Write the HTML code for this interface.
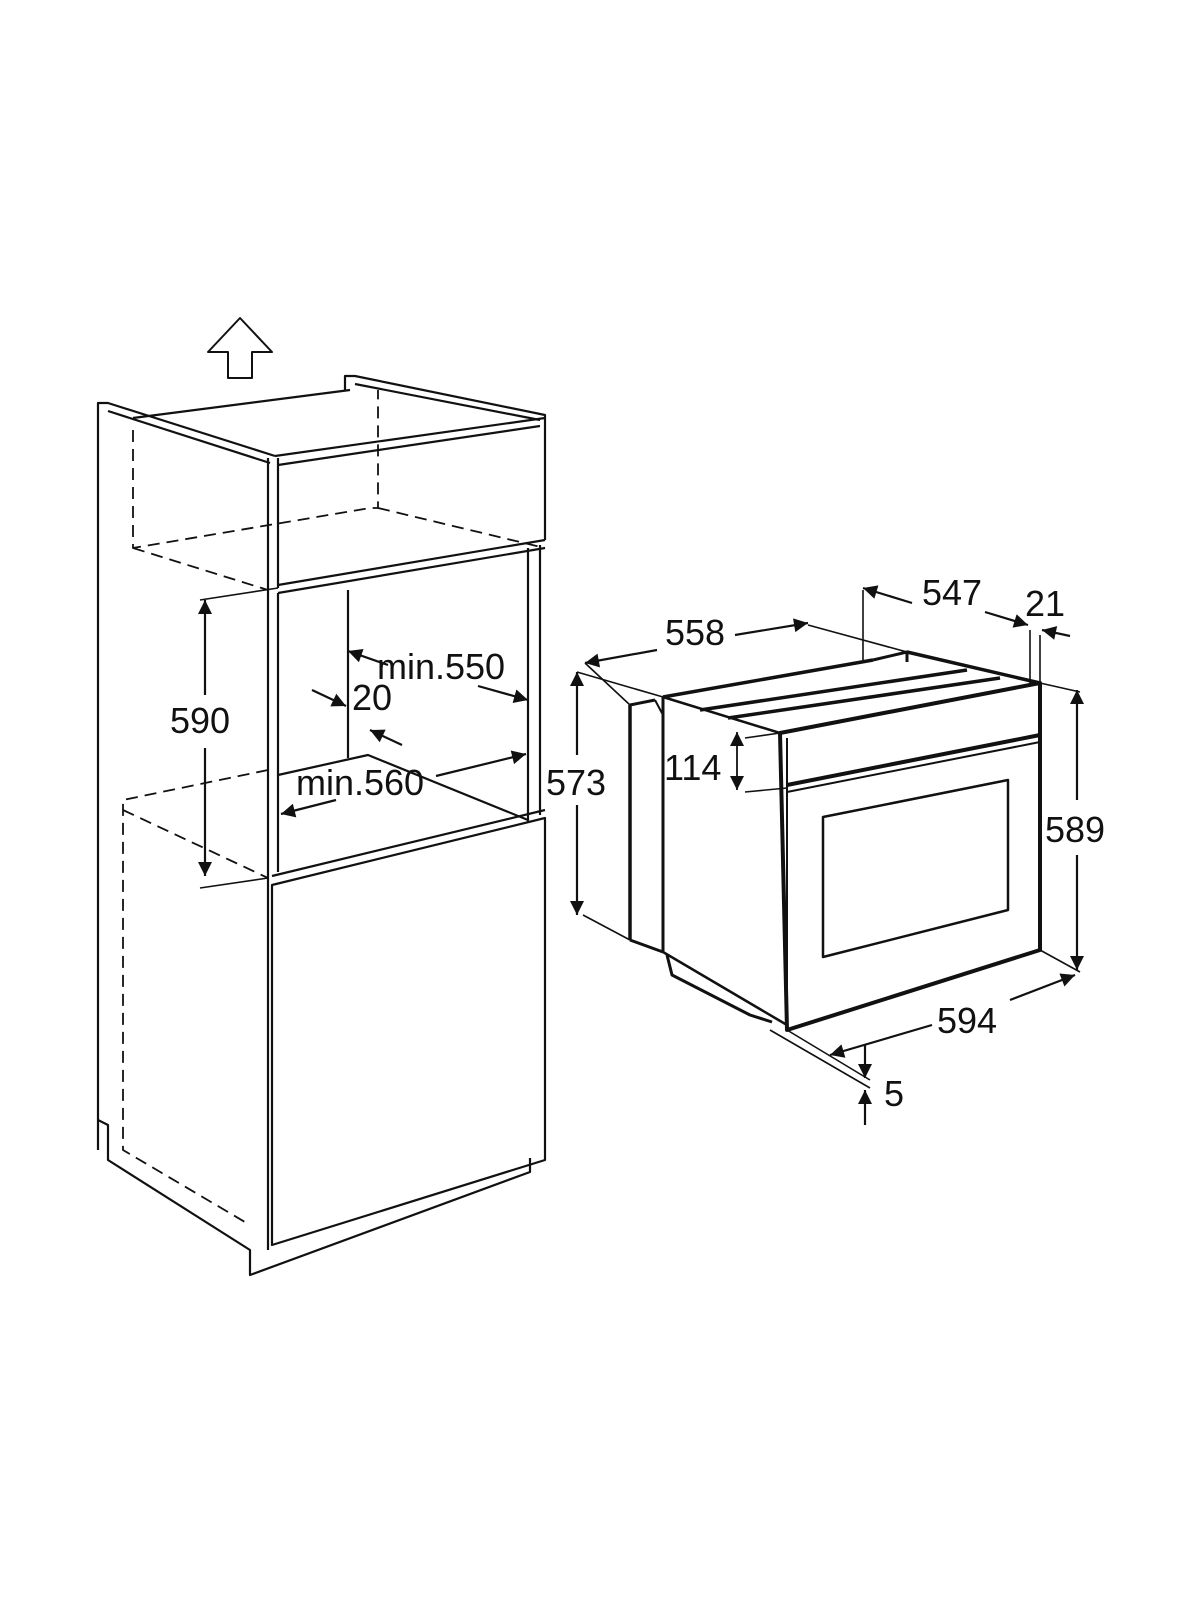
<!DOCTYPE html>
<html><head><meta charset="utf-8"><style>
html,body{margin:0;padding:0;background:#fff;width:1200px;height:1600px;overflow:hidden}
svg{display:block}
text{font-family:"Liberation Sans",sans-serif;font-size:36px;fill:#111}
</style></head><body>
<svg width="1200" height="1600" viewBox="0 0 1200 1600" xmlns="http://www.w3.org/2000/svg">
<defs>
<marker id="b" viewBox="0 0 10 10" refX="10" refY="5" markerWidth="22" markerHeight="14" orient="auto-start-reverse" markerUnits="userSpaceOnUse"><path d="M0,0 L10,5 L0,10 z" fill="#111"/></marker>
</defs>
<g fill="none" stroke="#111" stroke-width="2.2" stroke-linejoin="round">
<polygon points="240,318 272,352 252,352 252,378 228,378 228,352 208,352" stroke-width="2"/>
<polyline points="98,1150 98,403 108,403 275,456"/>
<line x1="108" y1="411" x2="270" y2="463"/>
<line x1="268" y1="458" x2="268" y2="1250"/>
<line x1="278" y1="458" x2="278" y2="588"/>
<polyline points="98,1120 108,1125 108,1160 250,1250 250,1275 530,1172 530,1158"/>
<line x1="133" y1="418" x2="350" y2="390"/>
<polyline points="345,390 345,376 355,376 545,415 545,540"/>
<line x1="355" y1="384" x2="540" y2="420"/>
<line x1="275" y1="456" x2="545" y2="418"/>
<line x1="278" y1="465" x2="540" y2="426"/>
<line x1="278" y1="585" x2="545" y2="540"/>
<line x1="278" y1="593" x2="545" y2="548"/>
<line x1="278" y1="593" x2="278" y2="872"/>
<line x1="348" y1="590" x2="348" y2="758"/>
<line x1="528" y1="548" x2="528" y2="822"/>
<line x1="540" y1="545" x2="540" y2="815"/>
<polyline points="278,775 368,755 528,820"/>
<polyline points="272,876 545,810"/>
<polygon points="272,885 545,818 545,1160 272,1245"/>
<g stroke-dasharray="12,7" stroke-width="1.8">
<polyline points="133,430 133,548 370,508 378,508 378,390"/>
<line x1="378" y1="508" x2="545" y2="548"/>
<line x1="133" y1="548" x2="268" y2="590"/>
<polyline points="268,770 123,800 123,1150 250,1225"/>
<line x1="123" y1="810" x2="268" y2="878"/>
</g>
<line x1="200" y1="600" x2="278" y2="588" stroke-width="1.6"/>
<line x1="200" y1="888" x2="268" y2="878" stroke-width="1.6"/>
<line x1="205" y1="600" x2="205" y2="695" marker-start="url(#b)"/>
<line x1="205" y1="748" x2="205" y2="876" marker-end="url(#b)"/>
<line x1="388" y1="665" x2="348" y2="651" marker-end="url(#b)"/>
<line x1="478" y1="686" x2="528" y2="700" marker-end="url(#b)"/>
<line x1="312" y1="690" x2="346" y2="706" marker-end="url(#b)"/>
<line x1="402" y1="745" x2="370" y2="730" marker-end="url(#b)"/>
<line x1="436" y1="776" x2="526" y2="754" marker-end="url(#b)"/>
<line x1="336" y1="800" x2="281" y2="814" marker-end="url(#b)"/>

<line x1="630" y1="705" x2="630" y2="940" stroke-width="3.5"/>
<line x1="630" y1="705" x2="655" y2="700" stroke-width="3"/>
<line x1="655" y1="700" x2="663" y2="715" stroke-width="2"/>
<line x1="663" y1="697" x2="663" y2="952" stroke-width="3"/>
<line x1="630" y1="940" x2="663" y2="952" stroke-width="3"/>
<line x1="663" y1="952" x2="787" y2="1025" stroke-width="2.5"/>
<polyline points="667,955 672,975 750,1015 772,1022" stroke-width="3"/>
<line x1="663" y1="697" x2="873" y2="660" stroke-width="3.5"/>
<polyline points="873,660 907,652 907,662" stroke-width="3"/>
<line x1="907" y1="652" x2="1040" y2="683" stroke-width="3.5"/>
<line x1="663" y1="697" x2="780" y2="733" stroke-width="2.5"/>
<line x1="700" y1="710" x2="967" y2="670" stroke-width="3.5"/>
<line x1="728" y1="718" x2="1000" y2="678" stroke-width="3.5"/>
<polygon points="780,733 1040,683 1040,950 787,1030" stroke-width="4"/>
<line x1="787" y1="738" x2="787" y2="1030" stroke-width="2"/>
<line x1="787" y1="785" x2="1040" y2="735" stroke-width="4"/>
<line x1="787" y1="792" x2="1040" y2="742" stroke-width="2"/>
<polygon points="823,817 1008,780 1008,910 823,957" stroke-width="2.5"/>
<g stroke-width="1.6">
<line x1="577" y1="672" x2="663" y2="697"/>
<line x1="583" y1="915" x2="630" y2="940"/>
<line x1="585" y1="663" x2="630" y2="705"/>
<line x1="808" y1="625" x2="907" y2="652"/>
<line x1="863" y1="590" x2="863" y2="660"/>
<line x1="1030" y1="630" x2="1030" y2="683"/>
<line x1="1040" y1="635" x2="1040" y2="683"/>
<line x1="1040" y1="683" x2="1080" y2="692"/>
<line x1="1040" y1="950" x2="1080" y2="972"/>
<line x1="745" y1="738" x2="780" y2="733"/>
<line x1="745" y1="792" x2="787" y2="788"/>
<line x1="787" y1="1030" x2="870" y2="1080"/>
<line x1="770" y1="1030" x2="870" y2="1088"/>
</g>
<line x1="577" y1="672" x2="577" y2="755" marker-start="url(#b)"/>
<line x1="577" y1="805" x2="577" y2="915" marker-end="url(#b)"/>
<line x1="657" y1="650" x2="585" y2="663" marker-end="url(#b)"/>
<line x1="735" y1="635" x2="808" y2="623" marker-end="url(#b)"/>
<line x1="912" y1="603" x2="863" y2="588" marker-end="url(#b)"/>
<line x1="985" y1="612" x2="1028" y2="625" marker-end="url(#b)"/>
<line x1="1070" y1="636" x2="1042" y2="630" marker-end="url(#b)"/>
<line x1="1077" y1="690" x2="1077" y2="800" marker-start="url(#b)"/>
<line x1="1077" y1="855" x2="1077" y2="970" marker-end="url(#b)"/>
<line x1="1010" y1="1000" x2="1075" y2="975" marker-end="url(#b)"/>
<line x1="932" y1="1025" x2="830" y2="1055" marker-end="url(#b)"/>
<line x1="737" y1="732" x2="737" y2="790" marker-start="url(#b)" marker-end="url(#b)" stroke-width="1.8"/>
<line x1="865" y1="1045" x2="865" y2="1078" marker-end="url(#b)"/>
<line x1="865" y1="1125" x2="865" y2="1090" marker-end="url(#b)"/>
</g>
<text x="170" y="733">590</text>
<text x="377" y="679">min.550</text>
<text x="352" y="710">20</text>
<text x="296" y="795">min.560</text>
<text x="546" y="795">573</text>
<text x="665" y="645">558</text>
<text x="922" y="605">547</text>
<text x="1025" y="616">21</text>
<text x="664" y="780">114</text>
<text x="1045" y="842">589</text>
<text x="937" y="1033">594</text>
<text x="884" y="1106">5</text>
</svg>
</body></html>
